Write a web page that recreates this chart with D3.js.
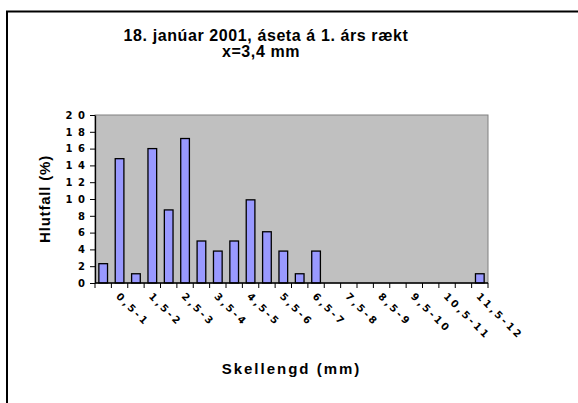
<!DOCTYPE html>
<html><head><meta charset="utf-8">
<script src="https://cdn.jsdelivr.net/npm/d3@7/dist/d3.min.js"></script>
<style>body{margin:0;background:#fff}svg{display:block}text{font-family:Arial,"Liberation Sans",sans-serif;font-weight:bold}text.tk{font-family:"DejaVu Sans",Verdana,sans-serif}</style>
</head><body><svg id="c" width="578" height="403"></svg>
<script>
const categories = ["0-0,5","0,5-1","1-1,5","1,5-2","2-2,5","2,5-3","3-3,5","3,5-4","4-4,5","4,5-5","5-5,5","5,5-6","6-6,5","6,5-7","7-7,5","7,5-8","8-8,5","8,5-9","9-9,5","9,5-10","10-10,5","10,5-11","11-11,5","11,5-12"];
const values = [2.3,14.8,1.1,16.0,8.7,17.2,5.0,3.8,5.0,9.9,6.1,3.8,1.1,3.8,0,0,0,0,0,0,0,0,0,1.1];
const yTicks = [0,2,4,6,8,10,12,14,16,18,20];
const titleLines = ["18. janúar 2001, áseta á 1. árs rækt","x=3,4 mm"];
const xTitle = "Skellengd (mm)", yTitle = "Hlutfall (%)";

const svg = d3.select("#c");
svg.append("path").attr("d","M7,600V11.5H700").attr("fill","none").attr("stroke","#000").attr("stroke-width",2);

const L=95,R=488,T=115,B=283;
const x = d3.scaleBand().domain(categories).range([L,R]).paddingInner(0.47).paddingOuter(0.235);
const xb = d3.scaleBand().domain(categories).range([L,R]);
const y = d3.scaleLinear().domain([0,20]).range([B,T]);

svg.append("rect").attr("x",L).attr("y",T).attr("width",R-L).attr("height",B-T).attr("fill","#C0C0C0").attr("stroke","#808080").attr("stroke-width",1);

svg.selectAll("rect.bar").data(values).join("rect").attr("class","bar")
  .attr("x",(d,i)=>x(categories[i])).attr("width",x.bandwidth())
  .attr("y",d=>y(d)).attr("height",d=>B-y(d))
  .attr("fill",d=>d>0?"#9999FF":"none").attr("stroke",d=>d>0?"#000":"none").attr("stroke-width",1.3);

const ya = svg.append("g").attr("transform",`translate(${L},0)`).call(d3.axisLeft(y).tickValues(yTicks).tickSize(5).tickSizeOuter(0).tickPadding(5));
ya.select(".domain").attr("stroke","#000").attr("stroke-width",1.3);
ya.selectAll("line").attr("stroke","#000");
ya.selectAll("text").attr("class","tk").attr("font-size",10).attr("letter-spacing",5.5).attr("fill","#000").attr("dx",5.5);

svg.append("line").attr("x1",L).attr("x2",R).attr("y1",B).attr("y2",B).attr("stroke","#000").attr("stroke-width",1.5);
const bounds = categories.map(c=>xb(c)).concat([R]);
svg.selectAll("line.xt").data(bounds).join("line").attr("class","xt")
  .attr("x1",d=>d).attr("x2",d=>d).attr("y1",B).attr("y2",B+5).attr("stroke","#000");

svg.selectAll("text.xl").data(categories.filter((c,i)=>i%2===1)).join("text").attr("class","tk")
  .attr("transform",c=>`translate(${xb(c)+xb.bandwidth()/2-4},${B+14}) rotate(45)`)
  .attr("font-size",10).attr("letter-spacing",2.6).attr("text-anchor","start").text(c=>c);

svg.selectAll("text.tt").data(titleLines).join("text").attr("class","tt")
  .attr("x",(d,i)=>i?261:266).attr("y",(d,i)=>41+i*16).attr("text-anchor","middle").attr("font-size",16).attr("letter-spacing",0.6).text(d=>d);

svg.append("text").attr("x",(L+R)/2).attr("y",374).attr("text-anchor","middle").attr("font-size",15).attr("letter-spacing",2).text(xTitle);
svg.append("text").attr("transform",`translate(50,${(T+B)/2}) rotate(-90)`).attr("text-anchor","middle").attr("font-size",15).attr("letter-spacing",0.8).text(yTitle);
</script></body></html>
